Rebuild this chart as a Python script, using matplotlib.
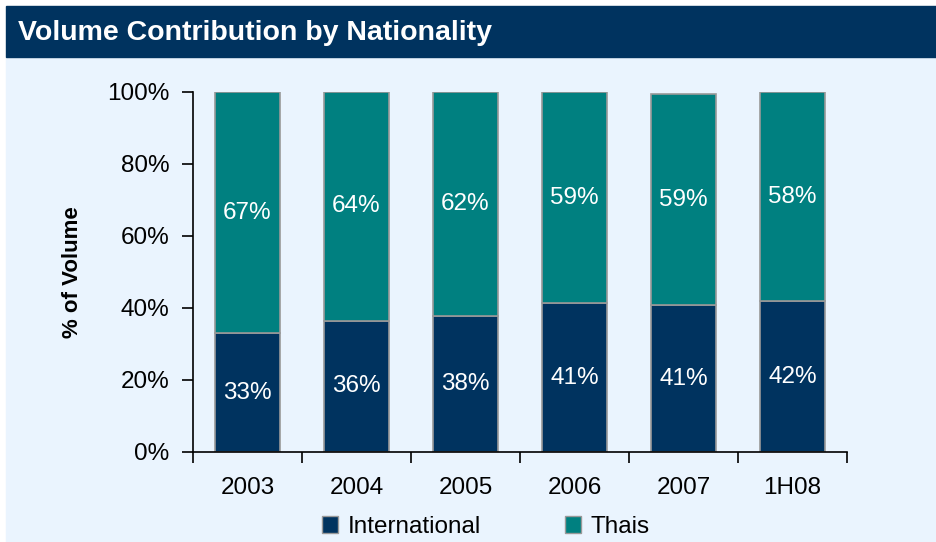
import matplotlib.pyplot as plt
from matplotlib.patches import Rectangle, Patch

# Data
periods = ['2003', '2004', '2005', '2006', '2007', '1H08']
international = [33, 36.4, 37.8, 41.3, 40.8, 41.9]
thais = [67, 63.6, 62.2, 58.7, 58.6, 58.1]
yticks = [0, 20, 40, 60, 80, 100]

navy = '#00335F'
teal = '#008080'
panel = '#EAF4FE'
edge = '#999999'

plt.rcParams['font.family'] = ['Liberation Sans', 'DejaVu Sans']


def main():
    fig = plt.figure(figsize=(9.36, 5.42), dpi=100)
    W, H = 936, 542

    # Panel background and title bar
    fig.patches.append(Rectangle((6 / W, 0), 1, 1 - 57 / H,
                                 transform=fig.transFigure, color=panel,
                                 zorder=-2))
    fig.patches.append(Rectangle((6 / W, 1 - 57 / H), 1, 51 / H,
                                 transform=fig.transFigure, color=navy,
                                 zorder=-1))
    fig.text(18 / W, 1 - 33 / H, 'Volume Contribution by Nationality',
             color='white', fontsize=20.5, fontweight='bold',
             va='center', ha='left')

    ax = fig.add_axes([193 / W, 90 / H, 654 / W, 360 / H])
    ax.set_facecolor('none')

    x = list(range(len(periods)))
    ax.bar(x, international, width=0.6, color=navy, edgecolor=edge,
           linewidth=1.2, label='International')
    ax.bar(x, thais, width=0.6, bottom=international, color=teal,
           edgecolor=edge, linewidth=1.2, label='Thais')

    for i in x:
        ax.text(i, international[i] / 2, '{:.0f}%'.format(international[i]),
                ha='center', va='center', color='white', fontsize=17.5)
        ax.text(i, international[i] + thais[i] / 2,
                '{:.0f}%'.format(thais[i]),
                ha='center', va='center', color='white', fontsize=17.5)

    ax.set_xlim(-0.5, len(periods) - 0.5)
    ax.set_ylim(0, 100)

    ax.set_yticks(yticks)
    ax.set_yticklabels(['{}%'.format(t) for t in yticks])
    ax.tick_params(axis='y', length=8, width=1.2, pad=9, labelsize=17.5)

    # ticks between categories, labels at the centres
    ax.set_xticks([i - 0.5 for i in range(len(periods) + 1)])
    ax.set_xticklabels([])
    ax.set_xticks(x, minor=True)
    ax.set_xticklabels(periods, minor=True)
    ax.tick_params(axis='x', which='major', length=8, width=1.2)
    ax.tick_params(axis='x', which='minor', length=0, pad=18,
                   labelsize=17.5)

    for side in ('top', 'right'):
        ax.spines[side].set_visible(False)
    for side in ('left', 'bottom'):
        ax.spines[side].set_linewidth(1.2)

    ax.set_ylabel('% of Volume', fontsize=16, fontweight='bold')
    ax.yaxis.set_label_coords(-110 / 654, 0.5)

    handles = [Patch(facecolor=navy, edgecolor=edge, label='International'),
               Patch(facecolor=teal, edgecolor=edge, label='Thais')]
    fig.legend(handles=handles, loc='center', ncol=2,
               bbox_to_anchor=(486 / W, 15 / H), frameon=False,
               fontsize=17.5, handlelength=0.65, handleheight=0.65,
               handletextpad=0.4, columnspacing=3.45, borderpad=0)

    fig.savefig('out.png', dpi=100)


if __name__ == '__main__':
    main()
